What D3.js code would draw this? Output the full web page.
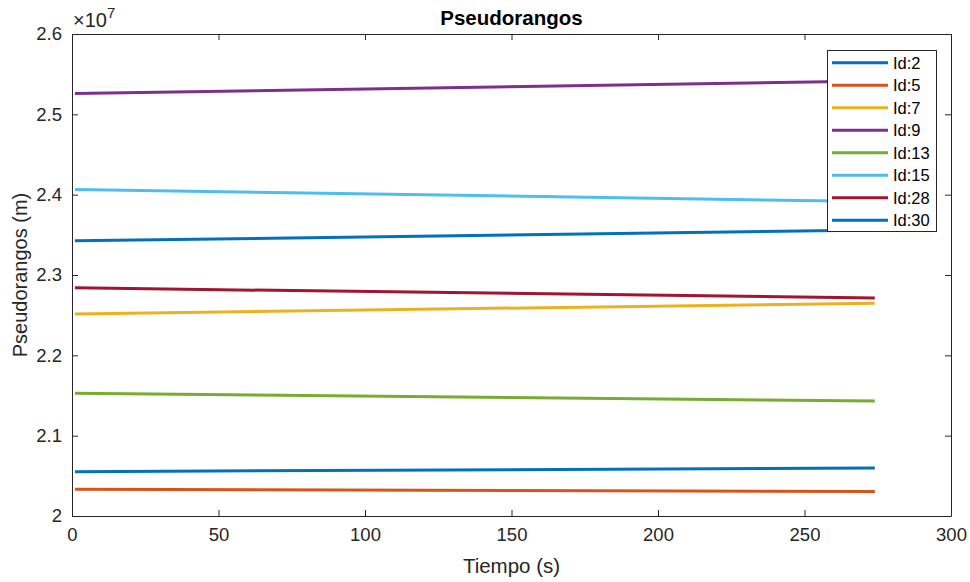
<!DOCTYPE html>
<html><head><meta charset="utf-8">
<script src="https://cdn.jsdelivr.net/npm/d3@7"></script>
<style>body{margin:0;background:#fff;} text{font-family:"Liberation Sans",Arial,sans-serif;}</style>
</head><body><svg id="c" width="970" height="582"></svg>
<script>
const ids = ["Id:2","Id:5","Id:7","Id:9","Id:13","Id:15","Id:28","Id:30"];
const times = [1, 274];
const v_id2  = [2.0552e7, 2.0598e7];
const v_id5  = [2.0332e7, 2.0305e7];
const v_id7  = [2.2515e7, 2.2649e7];
const v_id9  = [2.5260e7, 2.5414e7];
const v_id13 = [2.1528e7, 2.1432e7];
const v_id15 = [2.4064e7, 2.3914e7];
const v_id28 = [2.2840e7, 2.2715e7];
const v_id30 = [2.3425e7, 2.3561e7];
const seriesValues = [v_id2, v_id5, v_id7, v_id9, v_id13, v_id15, v_id28, v_id30];
const colors = ["#0072BD","#D95319","#EDB120","#7E2F8E","#77AC30","#4DBEEE","#A2142F","#0072BD"];
const xTicks = [0,50,100,150,200,250,300];
const yTicks = [2.0e7,2.1e7,2.2e7,2.3e7,2.4e7,2.5e7,2.6e7];
const yTickLabels = ["2","2.1","2.2","2.3","2.4","2.5","2.6"];

const svg = d3.select("#c");
const L=72, R=951, T=34, B=516;
const x = d3.scaleLinear().domain([0,300]).range([L,R]);
const y = d3.scaleLinear().domain([2.0e7,2.6e7]).range([B,T]);
const axisColor = "#262626";

// lines
const line = d3.line().x((d,i)=>x(times[i])).y(d=>y(d));
seriesValues.forEach((vals,k)=>{
  svg.append("path").attr("d", line(vals)).attr("fill","none")
    .attr("stroke", colors[k]).attr("stroke-width", 3);
});

// axes
const fmtY = (d)=>yTickLabels[yTicks.indexOf(d)];
const xb = svg.append("g").attr("transform",`translate(0,${B})`)
  .call(d3.axisBottom(x).tickValues(xTicks).tickSizeInner(-6).tickSizeOuter(0).tickPadding(12));
const xt = svg.append("g").attr("transform",`translate(0,${T})`)
  .call(d3.axisTop(x).tickValues(xTicks).tickSizeInner(-6).tickSizeOuter(0).tickFormat(""));
const yl = svg.append("g").attr("transform",`translate(${L},0)`)
  .call(d3.axisLeft(y).tickValues(yTicks).tickSizeInner(-6).tickSizeOuter(0).tickPadding(10).tickFormat(fmtY));
const yr = svg.append("g").attr("transform",`translate(${R},0)`)
  .call(d3.axisRight(y).tickValues(yTicks).tickSizeInner(-6).tickSizeOuter(0).tickFormat(""));
[xb,xt,yl,yr].forEach(g=>{
  g.selectAll("path.domain").attr("stroke",axisColor).attr("stroke-width",1);
  g.selectAll(".tick line").attr("stroke",axisColor);
  g.selectAll("text").attr("fill",axisColor).style("font-size","18.5px").style("font-family","'Liberation Sans',Arial,sans-serif");
});

// exponent
const ex = svg.append("text").attr("x",L+1).attr("y",27).attr("fill",axisColor).style("font-size","20px");
ex.append("tspan").text("×10");
ex.append("tspan").attr("dy",-9).style("font-size","15px").text("7");

// title & labels
svg.append("text").attr("x",(L+R)/2).attr("y",25).attr("text-anchor","middle")
  .style("font-size","20.5px").style("font-weight","bold").attr("fill","#000").text("Pseudorangos");
svg.append("text").attr("x",(L+R)/2).attr("y",573).attr("text-anchor","middle")
  .style("font-size","20.5px").attr("fill",axisColor).text("Tiempo (s)");
svg.append("text").attr("transform",`translate(27,${(T+B)/2}) rotate(-90)`).attr("text-anchor","middle")
  .style("font-size","20px").attr("fill",axisColor).text("Pseudorangos (m)");

// legend
const lg = svg.append("g");
lg.append("rect").attr("x",827.5).attr("y",50.5).attr("width",109).attr("height",181)
  .attr("fill","#fff").attr("stroke","#262626").attr("stroke-width",1);
ids.forEach((id,k)=>{
  const yy = 62.7 + k*22.5;
  lg.append("line").attr("x1",832).attr("x2",888).attr("y1",yy).attr("y2",yy)
    .attr("stroke",colors[k]).attr("stroke-width",3);
  lg.append("text").attr("x",893).attr("y",yy+6).style("font-size","16.5px").attr("fill","#000").text(id);
});
</script></body></html>
